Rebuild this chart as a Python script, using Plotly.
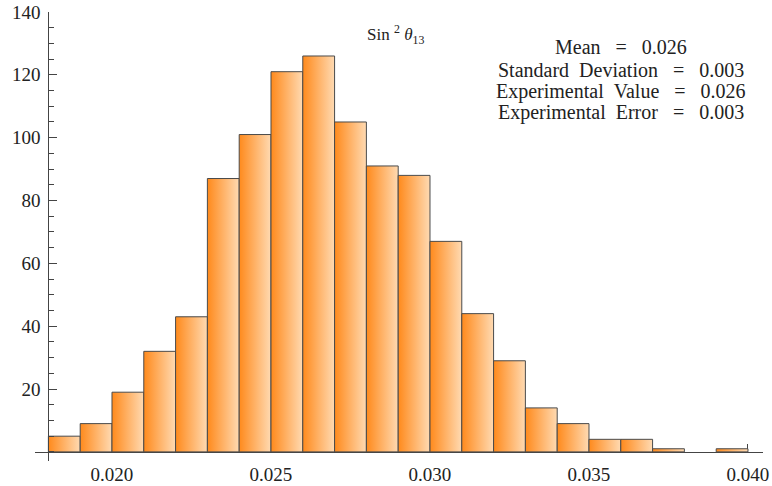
import plotly.graph_objects as go

# ---- data ----
bin_start = 0.018
bin_width = 0.001
counts = [5, 9, 19, 32, 43, 87, 101, 121, 126, 105, 91, 88, 67, 44, 29, 14, 9, 4, 4, 1, 0, 1]
x_tickvals = [0.020, 0.025, 0.030, 0.035, 0.040]
x_ticktext = ["0.020", "0.025", "0.030", "0.035", "0.040"]
y_tickvals = [20, 40, 60, 80, 100, 120, 140]
stat_labels = ["Mean", "Standard&nbsp;&nbsp;Deviation", "Experimental&nbsp;&nbsp;Value", "Experimental&nbsp;&nbsp;Error"]
stat_values = ["0.026", "0.003", "0.026", "0.003"]

FONT = "Liberation Serif, Times New Roman, serif"

fig = go.Figure()
for i, c in enumerate(counts):
    if c <= 0:
        continue
    x0 = bin_start + i * bin_width
    x1 = x0 + bin_width
    fig.add_trace(go.Scatter(
        x=[x0, x0, x1, x1, x0],
        y=[0, c, c, 0, 0],
        mode="lines",
        fill="toself",
        fillgradient=dict(type="horizontal",
                          colorscale=[[0, "#FF8A1C"], [1, "#FFDAB2"]]),
        line=dict(color="#4a4a4a", width=1),
        hoverinfo="skip",
        showlegend=False,
    ))

x_min, x_max = 0.017579, 0.040472
y_min, y_max = -2.9, 140

fig.update_layout(
    width=772, height=486,
    margin=dict(l=35, r=9, t=12, b=25, autoexpand=False),
    plot_bgcolor="white", paper_bgcolor="white",
    font=dict(family=FONT, size=19, color="#222"),
    showlegend=False,
    xaxis=dict(
        range=[x_min, x_max], domain=[0, 1],
        anchor="free", position=(0 - y_min) / (y_max - y_min),
        automargin=False,
        showgrid=False, zeroline=False,
        showline=True, linecolor="#444", linewidth=1,
        ticks="inside", ticklen=8, tickwidth=1, tickcolor="#444",
        tickvals=x_tickvals, ticktext=x_ticktext,
        ticklabelstandoff=5,
        layer="below traces",
    ),
    yaxis=dict(
        range=[y_min, y_max], domain=[0, 1],
        anchor="free", position=(bin_start - x_min) / (x_max - x_min),
        automargin=False,
        showgrid=False, zeroline=False,
        showline=True, linecolor="#444", linewidth=1,
        ticks="inside", ticklen=8, tickwidth=1, tickcolor="#444",
        tickvals=y_tickvals,
        ticklabelstandoff=4,
        minor=dict(ticks="inside", ticklen=5, tickwidth=1, tickcolor="#444",
                   tick0=0, dtick=5),
    ),
)

fig.add_annotation(
    x=0.02893, y=132.8, xref="x", yref="y",
    text="Sin <sup>2</sup> <i>θ</i><sub>13</sub>",
    showarrow=False, font=dict(size=17, family=FONT, color="#222"),
)

line_y = [47, 70, 92, 113]
for lab, val, py in zip(stat_labels, stat_values, line_y):
    fig.add_annotation(
        x=0.036006, y=(452 - py) / 62.8 * 20, xref="x", yref="y",
        text=f"{lab}&nbsp;&nbsp;&nbsp;=&nbsp;&nbsp;&nbsp;{val}",
        showarrow=False, font=dict(size=20, family=FONT, color="#222"),
        xanchor="center", yanchor="middle",
    )

fig.write_html("out.html")
